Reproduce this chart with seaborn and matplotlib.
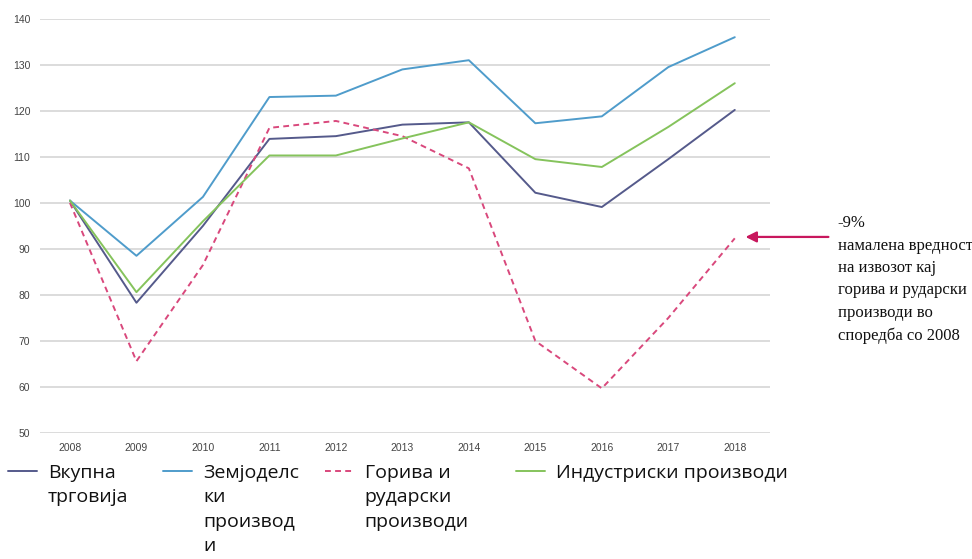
import pandas as pd
from matplotlib import pyplot as plt
import seaborn as sns

years = [2008, 2009, 2010, 2011, 2012, 2013, 2014, 2015, 2016, 2017, 2018]

# index, 2008 = 100
vkupna = [100.5, 78.3, 95.0, 113.9, 114.5, 117.0, 117.5, 102.2, 99.1, 109.5, 120.2]
zemjodelski = [100.5, 88.5, 101.3, 123.0, 123.3, 129.0, 131.0, 117.3, 118.8, 129.5, 136.0]
goriva = [100.0, 65.6, 86.5, 116.3, 117.8, 114.5, 107.5, 70.0, 59.7, 75.0, 92.3]
industriski = [100.5, 80.6, 96.0, 110.3, 110.3, 114.0, 117.5, 109.5, 107.8, 116.5, 126.0]

series_names = ["Вкупна\nтрговија", "Земјоделс\nки\nпроизвод\nи",
                "Горива и\nрударски\nпроизводи", "Индустриски производи"]
series_colors = ["#555a8b", "#4f9ccb", "#d9487c", "#85c35c"]

note = "-9%\nнамалена вредност\nна извозот кај\nгорива и рударски\nпроизводи во\nспоредба со 2008"

df = pd.DataFrame({"year": years * 4,
                   "value": vkupna + zemjodelski + goriva + industriski,
                   "series": [n for n in series_names for _ in years]})

sns.set_style("white")
plt.rcParams['font.family'] = ['Liberation Sans', 'DejaVu Sans']

fig = plt.figure(figsize=(9.72, 5.59), dpi=100)
ax = fig.add_axes([0.0412, 0.2254, 0.751, 0.741])

sns.lineplot(data=df, x="year", y="value", hue="series", style="series",
             palette=dict(zip(series_names, series_colors)),
             dashes={series_names[0]: "", series_names[1]: "", series_names[2]: (3, 2.2), series_names[3]: ""},
             linewidth=1.4, legend=False, ax=ax)

ax.set_xlim(2007.55, 2018.53)
ax.set_ylim(50, 140)
ax.set_yticks(range(50, 141, 10))
ax.set_xticks(years)
ax.grid(axis='y', color='#d9d9d9', linewidth=1.3)
ax.grid(axis='x', visible=False)
for s in ax.spines.values():
    s.set_visible(False)
ax.set_xlabel("")
ax.set_ylabel("")
ax.tick_params(axis='both', length=0, labelsize=7.5, labelcolor='#444444')
ax.tick_params(axis='y', pad=7)
ax.tick_params(axis='x', pad=7)
for ln in ax.get_lines():
    ln.set_clip_on(False)

# arrow pointing at 2018 fuel value
ax.annotate("", xy=(2018.12, goriva[-1] + 0.3), xytext=(2019.45, goriva[-1] + 0.3),
            arrowprops=dict(arrowstyle="-|>", color="#c8175d", lw=1.6, mutation_scale=16),
            annotation_clip=False)
fig.text(0.862, 0.615, note, family=['Liberation Serif'], fontsize=12,
         va='top', ha='left', linespacing=1.53, color='#111111')

# one legend per entry, placed like the original html legend
legend_x = [0.008, 0.168, 0.334, 0.531]
handles = ax.get_lines()[:4]
for h, name, x in zip(handles, series_names, legend_x):
    leg = fig.legend([h], [name], loc='upper left', bbox_to_anchor=(x, 0.1696),
                     frameon=False, prop={'family': 'Open Sans', 'size': 14},
                     handlelength=1.5, handletextpad=0.55,
                     borderaxespad=0, borderpad=0)
    for col in leg._legend_handle_box.get_children():
        for row in col.get_children():
            row.align = "top"
    for t in leg.get_texts():
        t.set_linespacing(1.45)
        t.set_color('#111111')

fig.savefig("out.png", dpi=100)
